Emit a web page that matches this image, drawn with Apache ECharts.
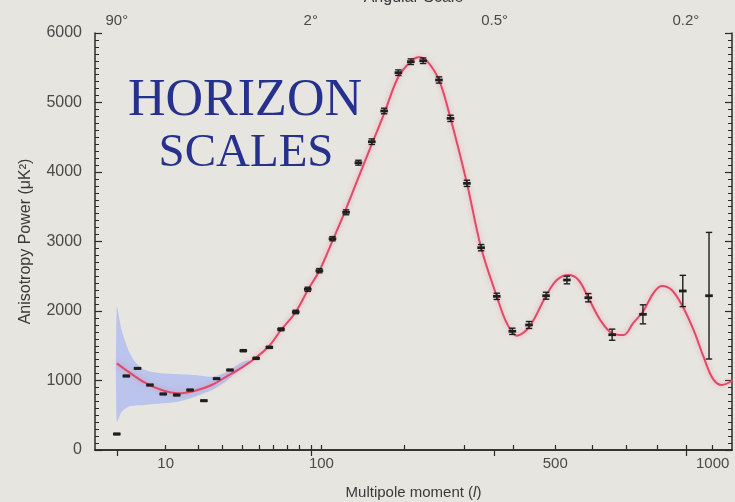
<!DOCTYPE html>
<html>
<head>
<meta charset="utf-8">
<script src="https://cdn.jsdelivr.net/npm/echarts@6/dist/echarts.min.js"></script>
<style>
html,body{margin:0;padding:0;background:#e7e5e0;}
#chart{width:735px;height:502px;}
</style>
</head>
<body>
<div id="chart"></div>
<script>
// ---- Data (multipole l, power in uK^2) ----
const pointL   = [2, 3, 4.5, 6.6, 9.4, 12.9, 17, 22, 27.3, 33.6, 40.7, 48.3, 57, 65.4, 77, 87.3, 98, 111, 125.5, 139.6, 156, 172, 191.7, 210, 229, 255, 275, 305, 332.5, 364.5, 398, 436, 477, 530, 588, 657, 753, 889, 986];
const pointV   = [230, 1065, 1175, 935, 806, 791, 863, 709, 1026, 1151, 1429, 1319, 1477, 1736, 1986, 2312, 2580, 3040, 3420, 4134, 4436, 4878, 5429, 5587, 5601, 5324, 4772, 3837, 2911, 2211, 1708, 1799, 2220, 2446, 2191, 1659, 1952, 2288, 2220];
const pointErr = [10, 10, 10, 10, 10, 10, 10, 10, 10, 10, 15, 15, 15, 20, 25, 30, 30, 30, 35, 35, 40, 40, 40, 40, 40, 45, 45, 45, 45, 45, 45, 50, 50, 55, 60, 80, 137, 225, 911];

const curveL = [2, 3.24, 5.7, 9.06, 13.35, 18.7, 25.2, 31.2, 40.7, 48.3, 57, 65.4, 77, 87.3, 98, 111, 125.5, 139.6, 156, 172, 191.7, 210, 222, 235, 255, 275, 305, 332.5, 364.5, 386, 408, 437, 477, 504, 534, 561, 588, 622, 657, 692, 721, 753, 787, 815, 850, 889, 928, 965, 1000, 1035, 1081];
const curveV = [1247, 1127, 969, 863, 816, 853, 935, 1046, 1200, 1330, 1500, 1727, 1986, 2300, 2580, 3010, 3470, 3920, 4400, 4840, 5370, 5590, 5650, 5600, 5324, 4772, 3837, 2911, 2211, 1823, 1645, 1774, 2220, 2446, 2518, 2446, 2191, 1871, 1679, 1655, 1823, 1990, 2254, 2360, 2302, 2062, 1727, 1343, 1031, 935, 1007];

const bandL    = [2, 2.48, 3.24, 4.13, 5.71, 9.06, 13.35, 18.7, 25.2, 31.2, 38.9, 44];
const bandLow  = [407, 551, 623, 640, 647, 671, 695, 767, 863, 980, 1150, 1260];
const bandHigh = [2062, 1727, 1439, 1271, 1151, 1103, 1090, 1079, 1055, 1110, 1250, 1290];

const bottomTickL  = [10, 20, 30, 40, 50, 60, 70, 80, 90, 100, 200, 300, 400, 500, 600, 700, 800, 900, 1000];
const bottomLabelL = [10, 100, 500, 1000];
const angleTickL   = [2, 90, 360, 900];
const angleLabels  = ['90°', '2°', '0.5°', '0.2°'];

// ---- axis transform: the plot's horizontal scale is l^0.4 ----
const tf = l => Math.pow(l, 0.4);
const inv = t => Math.round(Math.pow(t, 2.5));
const X_MIN = 0.788, X_MAX = 16.32;

const chart = echarts.init(document.getElementById('chart'), null, {renderer: 'canvas'});
const font = '"Liberation Sans", Arial, Helvetica, sans-serif';
const axisCol = '#2a2a2a';
const labelCol = '#4a4a4a';

const errData = pointL.map((l, i) => [tf(l), pointV[i], pointErr[i]]);
const curveData = curveL.map((l, i) => [tf(l), curveV[i]]);

const option = {
  backgroundColor: '#e7e5e0',
  animation: false,
  grid: {left: 95, right: 3, top: 33, bottom: 52, containLabel: false, outerBoundsMode: 'none'},
  xAxis: [
    {
      type: 'value', position: 'bottom', min: X_MIN, max: X_MAX,
      splitLine: {show: false},
      axisLine: {lineStyle: {color: axisCol, width: 1.5}},
      axisTick: {inside: true, length: 5, customValues: bottomTickL.map(tf), lineStyle: {color: axisCol, width: 1.2}},
      axisLabel: {customValues: bottomLabelL.map(tf), formatter: v => String(inv(v)), color: labelCol, fontSize: 15, fontFamily: font, margin: 6},
      name: 'Multipole moment ({i|l})', nameLocation: 'middle', nameGap: 35, nameMoveOverlap: false,
      nameTextStyle: {color: '#3a3a3a', fontSize: 15, fontFamily: font,
        rich: {i: {fontStyle: 'italic', fontSize: 15, fontFamily: font, color: '#3a3a3a'}}}
    },
    {
      type: 'value', position: 'top', min: X_MIN, max: X_MAX,
      splitLine: {show: false},
      axisLine: {lineStyle: {color: axisCol, width: 1.5}},
      axisTick: {inside: true, length: 6, customValues: angleTickL.map(tf), lineStyle: {color: axisCol, width: 1.2}},
      axisLabel: {customValues: angleTickL.map(tf), formatter: v => {
          const idx = angleTickL.indexOf(inv(v)); return idx >= 0 ? angleLabels[idx] : '';
        }, color: labelCol, fontSize: 15, fontFamily: font, margin: 5},
      name: 'Angular Scale', nameLocation: 'middle', nameGap: 27, nameMoveOverlap: false,
      nameTextStyle: {color: '#3a3a3a', fontSize: 16, fontFamily: font, verticalAlign: 'bottom'}
    }
  ],
  yAxis: [
    {
      type: 'value', position: 'left', min: 0, max: 6000, interval: 1000,
      splitLine: {show: false},
      axisLine: {show: true, lineStyle: {color: axisCol, width: 1.5}},
      axisTick: {inside: true, length: 7, lineStyle: {color: axisCol, width: 1.2}},
      minorTick: {show: true, splitNumber: 10, length: 4, lineStyle: {color: axisCol, width: 1}},
      axisLabel: {color: labelCol, fontSize: 16, fontFamily: font, margin: 13, formatter: v => String(v)},
      name: 'Anisotropy Power (μK²)', nameLocation: 'middle', nameGap: 61, nameMoveOverlap: false,
      nameTextStyle: {color: '#3a3a3a', fontSize: 16, fontFamily: font}
    },
    {
      type: 'value', position: 'right', min: 0, max: 6000, interval: 1000,
      splitLine: {show: false},
      axisLine: {show: true, lineStyle: {color: axisCol, width: 1.5}},
      axisTick: {inside: true, length: 7, lineStyle: {color: axisCol, width: 1.2}},
      minorTick: {show: true, splitNumber: 10, length: 4, lineStyle: {color: axisCol, width: 1}},
      axisLabel: {show: false}
    }
  ],
  graphic: [
    {type: 'text', x: 245, y: 75, style: {text: 'HORIZON', fill: '#25318c', font: '52px "Liberation Serif", "Times New Roman", serif', textAlign: 'center', textVerticalAlign: 'top'}, z: 10},
    {type: 'text', x: 246, y: 130, style: {text: 'SCALES', fill: '#25318c', font: '47px "Liberation Serif", "Times New Roman", serif', textAlign: 'center', textVerticalAlign: 'top'}, z: 10}
  ],
  series: [
    {
      type: 'custom', name: 'band', xAxisIndex: 0, yAxisIndex: 0, clip: true, z: 1,
      data: [[tf(bandL[0]), bandLow[0]]],
      renderItem: (params, api) => {
        const pts = [];
        for (let i = 0; i < bandL.length; i++) pts.push(api.coord([tf(bandL[i]), bandHigh[i]]));
        for (let i = bandL.length - 1; i >= 0; i--) pts.push(api.coord([tf(bandL[i]), bandLow[i]]));
        return {type: 'polygon', shape: {points: pts, smooth: 0.25}, style: {fill: 'rgba(150,170,245,0.55)', stroke: null}};
      }
    },
    {
      type: 'line', name: 'theory', xAxisIndex: 0, yAxisIndex: 0, data: curveData,
      smooth: 0.35, showSymbol: false, z: 3,
      lineStyle: {color: '#e04a66', width: 2, shadowColor: 'rgba(235,120,150,0.6)', shadowBlur: 5}
    },
    {
      type: 'custom', name: 'data', xAxisIndex: 0, yAxisIndex: 0, z: 5, data: errData,
      renderItem: (params, api) => {
        const x = api.value(0), v = api.value(1), e = api.value(2);
        const c = api.coord([x, v]);
        const t = api.coord([x, v + e]);
        const b = api.coord([x, v - e]);
        const col = '#1e1e1e';
        const cw = 3.2;
        return {type: 'group', children: [
          {type: 'line', shape: {x1: c[0], y1: t[1], x2: c[0], y2: b[1]}, style: {stroke: col, lineWidth: 1.4}},
          {type: 'line', shape: {x1: c[0] - cw, y1: t[1], x2: c[0] + cw, y2: t[1]}, style: {stroke: col, lineWidth: 1.4}},
          {type: 'line', shape: {x1: c[0] - cw, y1: b[1], x2: c[0] + cw, y2: b[1]}, style: {stroke: col, lineWidth: 1.4}},
          {type: 'rect', shape: {x: c[0] - 3.8, y: c[1] - 1.4, width: 7.6, height: 2.8}, style: {fill: col}}
        ]};
      }
    }
  ]
};
chart.setOption(option);
</script>
</body>
</html>
